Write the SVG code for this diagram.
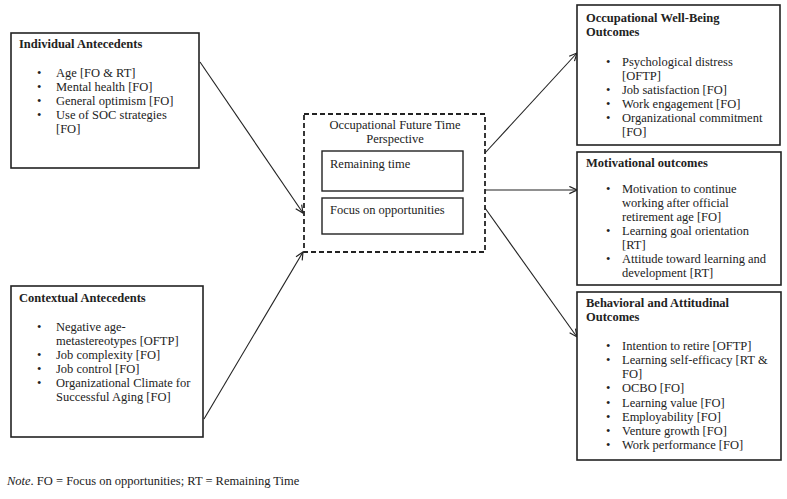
<svg xmlns="http://www.w3.org/2000/svg" width="787" height="499" viewBox="0 0 787 499">
<defs>
<style>
text{font-family:"Liberation Serif","Times New Roman",serif;font-size:12.5px;fill:#222}
.t{font-weight:bold}
.box{fill:#fff;stroke:#222;stroke-width:1.6}
.dash{fill:#fff;stroke:#222;stroke-width:1.8;stroke-dasharray:5,3}
.inner{fill:#fff;stroke:#222;stroke-width:1.4}
.con{stroke:#222;stroke-width:1.1;fill:none;marker-end:url(#arr)}
</style>
<marker id="arr" viewBox="0 0 10 10" refX="9.5" refY="5" markerWidth="9" markerHeight="9" markerUnits="userSpaceOnUse" orient="auto">
<path d="M1,1 L9.5,5 L1,9" fill="none" stroke="#222" stroke-width="1.3"/>
</marker>
</defs>
<rect width="787" height="499" fill="#fff"/>
<g id="connectors">
<line class="con" x1="200" y1="62" x2="303" y2="213"/>
<line class="con" x1="204" y1="419" x2="303" y2="252"/>
<line class="con" x1="485" y1="153" x2="577" y2="53"/>
<line class="con" x1="485" y1="190" x2="577" y2="190"/>
<line class="con" x1="485" y1="208" x2="577" y2="337"/>
</g>
<g id="individual">
<rect class="box" x="11" y="33" width="188" height="135"/>
<text class="t" x="19" y="48">Individual Antecedents</text>
<text x="37" y="77">•</text><text x="56" y="77">Age [FO &amp; RT]</text>
<text x="37" y="91">•</text><text x="56" y="91">Mental health [FO]</text>
<text x="37" y="105">•</text><text x="56" y="105">General optimism [FO]</text>
<text x="37" y="119">•</text><text x="56" y="119">Use of SOC strategies</text>
<text x="56" y="133">[FO]</text>
</g>
<g id="contextual">
<rect class="box" x="11" y="286" width="192" height="151"/>
<text class="t" x="19" y="302">Contextual Antecedents</text>
<text x="37" y="331">•</text><text x="56" y="331">Negative age-</text>
<text x="56" y="345">metastereotypes [OFTP]</text>
<text x="37" y="359">•</text><text x="56" y="359">Job complexity [FO]</text>
<text x="37" y="373">•</text><text x="56" y="373">Job control [FO]</text>
<text x="37" y="387">•</text><text x="56" y="387">Organizational Climate for</text>
<text x="56" y="401">Successful Aging [FO]</text>
</g>
<g id="oftp">
<rect class="dash" x="304" y="114" width="181" height="138"/>
<text x="395" y="129" text-anchor="middle">Occupational Future Time</text>
<text x="395" y="143" text-anchor="middle">Perspective</text>
<g id="remaining">
<rect class="inner" x="322" y="151" width="141" height="40"/>
<text x="330" y="168">Remaining time</text>
</g>
<g id="focus">
<rect class="inner" x="322" y="198" width="141" height="36"/>
<text x="330" y="214">Focus on opportunities</text>
</g>
</g>
<g id="wellbeing">
<rect class="box" x="577" y="5" width="203" height="140"/>
<text class="t" x="586" y="22">Occupational Well-Being</text>
<text class="t" x="586" y="36">Outcomes</text>
<text x="606" y="66">•</text><text x="622" y="66">Psychological distress</text>
<text x="622" y="80">[OFTP]</text>
<text x="606" y="94">•</text><text x="622" y="94">Job satisfaction [FO]</text>
<text x="606" y="108">•</text><text x="622" y="108">Work engagement [FO]</text>
<text x="606" y="122">•</text><text x="622" y="122">Organizational commitment</text>
<text x="622" y="136">[FO]</text>
</g>
<g id="motivational">
<rect class="box" x="577" y="152" width="204" height="133"/>
<text class="t" x="586" y="167">Motivational outcomes</text>
<text x="606" y="193">•</text><text x="622" y="193">Motivation  to continue</text>
<text x="622" y="207">working after official</text>
<text x="622" y="221">retirement age [FO]</text>
<text x="606" y="235">•</text><text x="622" y="235">Learning goal orientation</text>
<text x="622" y="249">[RT]</text>
<text x="606" y="263">•</text><text x="622" y="263">Attitude toward learning and</text>
<text x="622" y="277">development  [RT]</text>
</g>
<g id="behavioral">
<rect class="box" x="577" y="292" width="204" height="168"/>
<text class="t" x="586" y="307">Behavioral and Attitudinal</text>
<text class="t" x="586" y="321">Outcomes</text>
<text x="606" y="350">•</text><text x="622" y="350">Intention to retire [OFTP]</text>
<text x="606" y="364">•</text><text x="622" y="364">Learning self-efficacy [RT &amp;</text>
<text x="622" y="378">FO]</text>
<text x="606" y="392">•</text><text x="622" y="392">OCBO [FO]</text>
<text x="606" y="407">•</text><text x="622" y="407">Learning value [FO]</text>
<text x="606" y="421">•</text><text x="622" y="421">Employability [FO]</text>
<text x="606" y="435">•</text><text x="622" y="435">Venture growth [FO]</text>
<text x="606" y="449">•</text><text x="622" y="449">Work performance [FO]</text>
</g>
<g id="note">
<text x="7" y="485" style="font-size:12.5px"><tspan font-style="italic">Note</tspan>. FO = Focus on opportunities; RT = Remaining Time</text>
</g>
</svg>
